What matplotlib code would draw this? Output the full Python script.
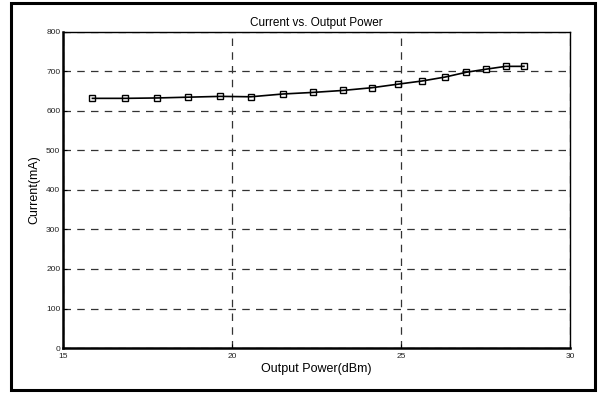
import matplotlib.pyplot as plt
from matplotlib.patches import Rectangle

plt.rcParams['font.family'] = ['Liberation Sans', 'DejaVu Sans']

power_dbm = [15.87, 16.83, 17.79, 18.71, 19.65, 20.56, 21.50, 22.39, 23.28,
             24.15, 24.92, 25.63, 26.31, 26.93, 27.53, 28.10, 28.64]
current_ma = [632, 632, 633, 635, 637, 636, 643, 647, 652,
              659, 668, 676, 686, 698, 706, 713, 713]
x_ticks = [15, 20, 25, 30]
y_ticks = [0, 100, 200, 300, 400, 500, 600, 700, 800]

fig = plt.figure(figsize=(5.98, 3.93), dpi=100)
ax = fig.add_axes([0.1054, 0.1145, 0.8476, 0.8041])

# outer frame around the whole figure
fig.patches.append(Rectangle((0.0192, 0.0064), 0.976, 0.985, transform=fig.transFigure,
                             fill=False, edgecolor='black', linewidth=2.2))

ax.plot(power_dbm, current_ma, color='black', linewidth=1.2, marker='s',
        markersize=5, markerfacecolor='none', markeredgecolor='black', markeredgewidth=1.0)

ax.set_xlim(15, 30)
ax.set_ylim(0, 800)
ax.set_xticks(x_ticks)
ax.set_yticks(y_ticks)
ax.tick_params(direction='in', labelsize=6, length=3, labelcolor='#222222')
ax.tick_params(axis='x', pad=3.5)
ax.tick_params(axis='y', pad=2)
ax.grid(True, linestyle=(0, (6, 5)), color='#333333', linewidth=0.9)

ax.spines['left'].set_linewidth(1.8)
ax.spines['bottom'].set_linewidth(1.8)
ax.spines['top'].set_linewidth(1.0)
ax.spines['right'].set_linewidth(1.0)

ax.set_title('Current vs. Output Power', fontsize=8.5, pad=4)
ax.set_xlabel('Output Power(dBm)', fontsize=9, labelpad=2)
ax.set_ylabel('Current(mA)', fontsize=9, labelpad=4)

fig.savefig('out.png', dpi=100)
